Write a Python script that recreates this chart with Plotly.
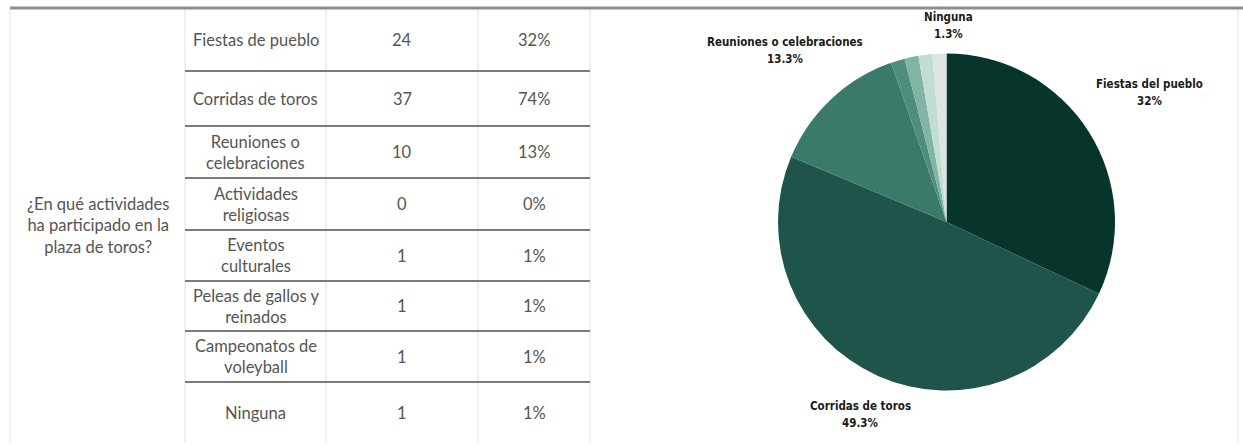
import math
import plotly.graph_objects as go

# ---- data -------------------------------------------------------------
question = "¿En qué actividades<br>ha participado en la<br>plaza de toros?"
table_categories = [
    "Fiestas de pueblo",
    "Corridas de toros",
    "Reuniones o<br>celebraciones",
    "Actividades<br>religiosas",
    "Eventos<br>culturales",
    "Peleas de gallos y<br>reinados",
    "Campeonatos de<br>voleyball",
    "Ninguna",
]
counts = [24, 37, 10, 0, 1, 1, 1, 1]
table_percents = ["32%", "74%", "13%", "0%", "1%", "1%", "1%", "1%"]

pie_labels = [
    "Fiestas del pueblo",
    "Corridas de toros",
    "Reuniones o celebraciones",
    "Actividades religiosas",
    "Eventos culturales",
    "Peleas de gallos y reinados",
    "Campeonatos de voleyball",
    "Ninguna",
]
pie_values = counts
pie_label_shown = [True, True, True, False, False, False, False, True]

# ---- style --------------------------------------------------------------
W, H = 1243, 445
pie_colors = ["#07352c", "#1e5449", "#3a7a6b", "#4a8878",
              "#4f8e7f", "#80b4a6", "#c2ddd4", "#dee4e2"]
# distance of each outside label from the pie centre, in radii
label_dist = [1.43, 1.25, 1.40, 1.0, 1.0, 1.0, 1.0, 1.17]
# small sideways nudge of each label, in px
label_dx = [0, 0, 0, 0, 0, 0, 0, 10]
label_line_gap = 17

col_edges = [10, 185, 326, 478, 590]
row_edges = [8, 71, 126, 178, 230, 281, 331, 382, 443]
pie_cx, pie_cy, pie_r = 946.5, 222.0, 168.5

table_font = dict(family="Lato, 'Open Sans', sans-serif", size=16.5, color="#555555")
label_font = dict(family="'Liberation Sans Narrow', 'DejaVu Sans Condensed', sans-serif",
                  size=11.5, color="#1a1a1a", weight=700)

fig = go.Figure()

# ---- pie ----------------------------------------------------------------
fig.add_trace(go.Pie(
    labels=pie_labels,
    values=pie_values,
    sort=False,
    direction="clockwise",
    rotation=0,
    textinfo="none",
    hoverinfo="label+percent",
    marker=dict(colors=pie_colors, line=dict(width=0)),
    showlegend=False,
    domain=dict(x=[(pie_cx - pie_r) / W, (pie_cx + pie_r) / W],
                y=[(H - pie_cy - pie_r) / H, (H - pie_cy + pie_r) / H]),
))

# outside labels (name over percentage) placed along each slice's mid-angle
total = sum(pie_values)
cum = 0.0
for lab, val, show, k, dx in zip(pie_labels, pie_values, pie_label_shown,
                                 label_dist, label_dx):
    mid = (cum + val / 2) / total * 2 * math.pi
    cum += val
    if not show:
        continue
    pct = f"{val / total * 100:.1f}".rstrip("0").rstrip(".")
    lx = pie_cx + k * pie_r * math.sin(mid) + dx
    ly = pie_cy - k * pie_r * math.cos(mid)
    for txt, off in ((lab, -label_line_gap / 2), (f"{pct}%", label_line_gap / 2)):
        fig.add_annotation(
            x=lx, y=ly + off, xref="x", yref="y",
            text=txt, showarrow=False, align="center",
            font=label_font,
        )

# ---- table --------------------------------------------------------------
shapes = []
# heavy rule across the top
shapes.append(dict(type="line", x0=10, x1=W, y0=8, y1=8, xref="x", yref="y",
                   line=dict(color="#8c8c8c", width=3)))
# light vertical rules
for x in col_edges + [1238]:
    shapes.append(dict(type="line", x0=x, x1=x, y0=row_edges[0] + 2, y1=row_edges[-1],
                       xref="x", yref="y", line=dict(color="#e2e2e2", width=1)))
# dark row separators
for y in row_edges[1:-1]:
    shapes.append(dict(type="line", x0=col_edges[1], x1=col_edges[-1], y0=y, y1=y,
                       xref="x", yref="y", line=dict(color="#7a7a7a", width=2)))

fig.add_annotation(
    x=(col_edges[0] + col_edges[1]) / 2, y=(row_edges[0] + row_edges[-1]) / 2,
    xref="x", yref="y", text=question, showarrow=False, align="center",
    font=table_font,
)
for i, (cat, n, p) in enumerate(zip(table_categories, counts, table_percents)):
    yc = (row_edges[i] + row_edges[i + 1]) / 2
    for j, txt in enumerate([cat, str(n), p]):
        fig.add_annotation(
            x=(col_edges[j + 1] + col_edges[j + 2]) / 2, y=yc,
            xref="x", yref="y", text=txt, showarrow=False, align="center",
            font=table_font,
        )

fig.update_layout(
    width=W, height=H,
    margin=dict(l=0, r=0, t=0, b=0),
    paper_bgcolor="white", plot_bgcolor="white",
    xaxis=dict(range=[0, W], visible=False, fixedrange=True, domain=[0, 1]),
    yaxis=dict(range=[H, 0], visible=False, fixedrange=True, domain=[0, 1]),
    shapes=shapes,
)

fig.write_html("out.html")
